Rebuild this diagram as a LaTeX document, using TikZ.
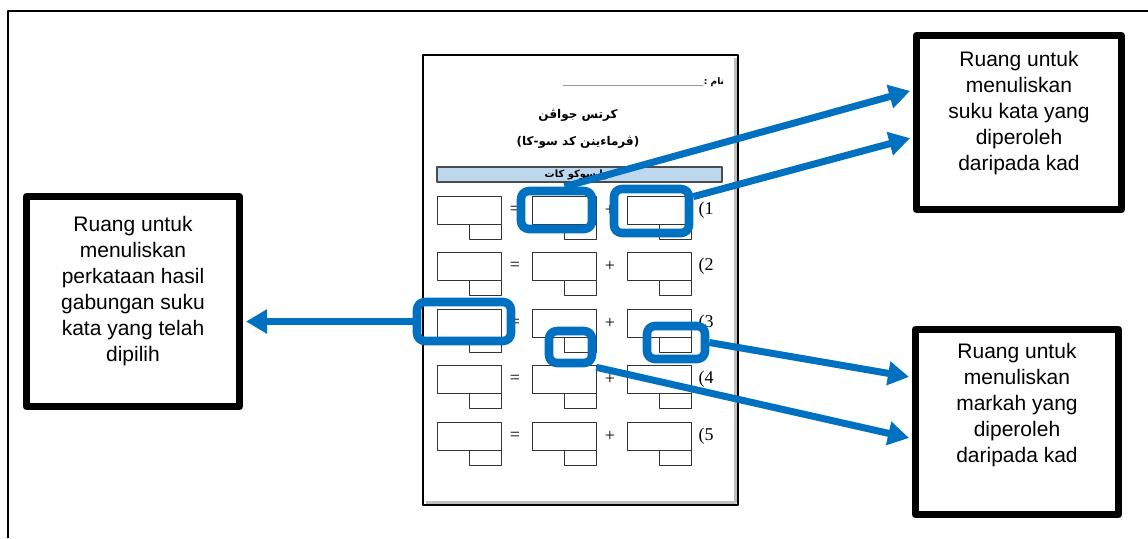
\documentclass[tikz,border=0pt]{standalone}
\usepackage{fontspec}
\setmainfont{Liberation Sans}
\newfontfamily\serifteks{Liberation Serif}
\newfontfamily\jawi[Script=Arabic]{DejaVu Sans}
\TeXXeTstate=1
\usetikzlibrary{arrows.meta}
\definecolor{birutanda}{RGB}{0,112,192}
\definecolor{birujalur}{RGB}{189,215,238}

\begin{document}
\begin{tikzpicture}[x=0.5pt, y=-0.5pt, line join=round]
    \tikzset{
        kotakLabel/.style={draw=black, line width=3.5pt, fill=white, inner sep=0pt},
        teksLabel/.style={align=center, font=\fontsize{10.5}{13}\selectfont},
        tanda/.style={draw=birutanda, line width=4.3pt, rounded corners=4pt, inner sep=0pt},
        anakPanah/.style={birutanda, line width=3.5pt, shorten >=1.5pt, -{Triangle[width=11.5pt, length=10.5pt]}},
        ruang/.style={draw=black!80, line width=0.5pt},
        nombor/.style={font=\serifteks\fontsize{9}{10}\selectfont, inner sep=0pt}
    }
    \useasboundingbox (0,0) rectangle (1148,538);

    % Bingkai luar
    \draw[line width=1pt] (8,538) -- (8,11) -- (1148,11);

    % Kertas jawapan
    \draw[black!25, line width=1.5pt] (426,502) -- (735,502) -- (735,58);
    \draw[line width=1pt] (423,55) rectangle (738,505);
    \draw[black!40, line width=0.4pt] (563,85) -- (703,85);
    \node[inner sep=0pt] (nama) at (714,82) {\jawi\fontsize{4.5}{5}\selectfont\bfseries\beginR نام :\endR};
    \node[inner sep=0pt] (tajuk) at (578,115) {\jawi\fontsize{6}{7}\selectfont\bfseries\beginR كرتس جواڤن\endR};
    \node[inner sep=0pt] (subtajuk) at (578,142) {\jawi\fontsize{6}{7}\selectfont\bfseries\beginR (ڤرماءينن كد سو-كا)\endR};
    \node[draw=black!70, fill=birujalur, line width=0.6pt, minimum width=142.5pt, minimum height=7.5pt, inner sep=0pt] (jalur) at (579.5,174.5)
        {\jawi\fontsize{5}{6}\selectfont\bfseries\beginR دوا سوكو كات\endR};

    % Ruang jawapan (5 baris)
    \foreach \baris in {1,...,5} {
        \pgfmathsetmacro{\ybaris}{196+56.5*(\baris-1)}
        \foreach \kol in {437,532,627} {
            \draw[ruang] (\kol,\ybaris) rectangle ++(64,28);
            \draw[ruang] (\kol+32,\ybaris+28) rectangle ++(32,15);
        }
        \node[nombor] (sama\baris) at (515,\ybaris+14) {=};
        \node[nombor] (tambah\baris) at (610,\ybaris+14) {+};
        \node[nombor] (no\baris) at (706,\ybaris+14) {(\baris};
    }

    % Tanda biru
    \node[tanda, minimum width=35.5pt, minimum height=19pt] (tanda1) at (556.5,210) {};
    \node[tanda, minimum width=37.5pt, minimum height=22pt] (tanda2) at (651.5,211) {};
    \node[tanda, minimum width=47pt, minimum height=19.5pt] (tanda3) at (464,321.5) {};
    \node[tanda, minimum width=21.5pt, minimum height=16pt] (tanda4) at (570.5,347) {};
    \node[tanda, minimum width=29pt, minimum height=16.5pt] (tanda5) at (676,342.5) {};

    % Kotak penerangan
    \node[kotakLabel, minimum width=106.5pt, minimum height=105pt] (kiri) at (133,301.5) {};
    \node[teksLabel] (teksKiri) at (133,291.5) {Ruang untuk\\menuliskan\\perkataan hasil\\gabungan suku\\kata yang telah\\dipilih};
    \node[kotakLabel, minimum width=102.5pt, minimum height=87pt] (kanan1) at (1019,122.5) {};
    \node[teksLabel] (teksKanan1) at (1019,113) {Ruang untuk\\menuliskan\\suku kata yang\\diperoleh\\daripada kad};
    \node[kotakLabel, minimum width=101.5pt, minimum height=92.5pt] (kanan2) at (1017,422) {};
    \node[teksLabel] (teksKanan2) at (1017,405) {Ruang untuk\\menuliskan\\markah yang\\diperoleh\\daripada kad};

    % Anak panah
    \draw[anakPanah] (tanda1.71) -- (kanan1.163);
    \draw[anakPanah] (tanda2.19) -- (kanan1.188);
    \draw[anakPanah] (tanda3.west) -- (tanda3.west -| kiri.east);
    \draw[anakPanah] (tanda5.east) -- (kanan2.157);
    \draw[anakPanah] (tanda4.south east) -- (kanan2.189);
\end{tikzpicture}
\end{document}
